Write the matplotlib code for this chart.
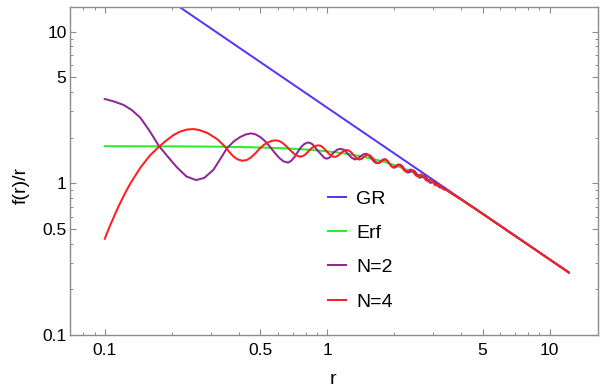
import matplotlib
matplotlib.use("Agg")
import matplotlib.pyplot as plt
from matplotlib.ticker import NullFormatter

plt.rcParams["font.family"] = ["Liberation Sans", "DejaVu Sans"]

# values (log-log), as (r, f(r)/r)
gr_pts = [(0.1, 31.55), (1.0, 3.155), (12.2, 0.2586)]

erf_pts = [(0.1, 1.758), (0.2, 1.754), (0.3, 1.747), (0.4, 1.737), (0.5, 1.724),
           (0.6, 1.709), (0.7, 1.692), (0.8, 1.672), (0.9, 1.650), (1.0, 1.626),
           (1.1, 1.600), (1.2, 1.573), (1.4, 1.514), (1.6, 1.452), (1.8, 1.387),
           (2.0, 1.321), (2.2, 1.255), (2.4, 1.191), (2.6, 1.128), (2.8, 1.069),
           (3.0, 1.0125), (3.2, 0.960), (3.4, 0.9105), (3.6, 0.865), (4.0, 0.7835),
           (4.5, 0.6988), (5.0, 0.6297), (6.0, 0.525), (8.0, 0.3938), (12.2, 0.2582)]

n2_pts = [(0.100, 3.60), (0.1098, 3.47), (0.1215, 3.29), (0.1321, 3.05), (0.1445, 2.71),
          (0.159, 2.22), (0.175, 1.77), (0.192, 1.50), (0.2111, 1.275), (0.233, 1.11),
          (0.2573, 1.051), (0.28, 1.085), (0.3083, 1.23), (0.33, 1.44), (0.3541, 1.70),
          (0.38, 1.89), (0.4062, 2.02), (0.43, 2.10), (0.455, 2.135), (0.476, 2.105),
          (0.503, 2.01), (0.53, 1.875), (0.5565, 1.725), (0.583, 1.58), (0.61, 1.468),
          (0.637, 1.395), (0.668, 1.37), (0.69, 1.41), (0.715, 1.50), (0.7415, 1.63),
          (0.765, 1.74), (0.79, 1.82), (0.82, 1.86), (0.84, 1.845), (0.8625, 1.80),
          (0.905, 1.649), (0.9475, 1.53), (0.97, 1.475), (0.99, 1.456), (1.01, 1.462),
          (1.03, 1.49), (1.07, 1.60), (1.11, 1.668), (1.15, 1.69), (1.195, 1.66),
          (1.24, 1.565), (1.285, 1.48), (1.33, 1.437), (1.3725, 1.4527), (1.415, 1.510),
          (1.4575, 1.5557), (1.50, 1.567), (1.541, 1.5286), (1.5825, 1.457), (1.624, 1.3917),
          (1.665, 1.358), (1.705, 1.3663), (1.745, 1.405), (1.785, 1.4375), (1.825, 1.443),
          (1.865, 1.4104), (1.905, 1.352), (1.945, 1.2982), (1.985, 1.269), (2.024, 1.2730),
          (2.0625, 1.300), (2.101, 1.3234), (2.14, 1.325), (2.179, 1.2970), (2.2175, 1.249),
          (2.256, 1.2043), (2.295, 1.179), (2.334, 1.1799), (2.3725, 1.199), (2.411, 1.2163),
          (2.45, 1.216), (2.4875, 1.1918), (2.525, 1.152), (2.5625, 1.1133), (2.60, 1.091),
          (2.6375, 1.0911), (2.675, 1.106), (2.7125, 1.1186), (2.75, 1.117), (2.7875, 1.0958),
          (2.825, 1.062), (2.8625, 1.0292), (2.90, 1.010), (2.9375, 1.0085), (2.975, 1.020),
          (3.0125, 1.0268), (3.05, 1.024), (3.0875, 1.0066), (3.125, 0.980), (3.1625, 0.957),
          (3.20, 0.942), (3.2375, 0.9381), (3.275, 0.941), (3.35, 0.932), (3.5, 0.888),
          (3.6, 0.865), (4.0, 0.7835), (4.5, 0.6988), (5.0, 0.6297), (6.0, 0.525),
          (8.0, 0.3938), (12.2, 0.2582)]

n4_pts = [(0.100, 0.431), (0.106, 0.533), (0.1155, 0.708), (0.124, 0.873), (0.131, 1.01),
          (0.145, 1.277), (0.160, 1.532), (0.175, 1.74), (0.187, 1.89), (0.2035, 2.08),
          (0.219, 2.20), (0.235, 2.265), (0.25, 2.28), (0.265, 2.25), (0.289, 2.15),
          (0.32, 1.96), (0.335, 1.84), (0.349, 1.73), (0.363, 1.61), (0.378, 1.51),
          (0.395, 1.44), (0.415, 1.41), (0.435, 1.425), (0.454, 1.48), (0.476, 1.58),
          (0.4985, 1.70), (0.52, 1.797), (0.5428, 1.864), (0.565, 1.907), (0.587, 1.92),
          (0.608, 1.905), (0.629, 1.85), (0.65, 1.775), (0.671, 1.697), (0.692, 1.62),
          (0.713, 1.559), (0.734, 1.52), (0.755, 1.50), (0.775, 1.51), (0.795, 1.544),
          (0.815, 1.60), (0.835, 1.664), (0.855, 1.715), (0.875, 1.749), (0.895, 1.772),
          (0.915, 1.78), (0.935, 1.768), (0.955, 1.730), (0.975, 1.68), (0.995, 1.627),
          (1.015, 1.575), (1.035, 1.536), (1.055, 1.505), (1.075, 1.494), (1.095, 1.50),
          (1.115, 1.519), (1.135, 1.55), (1.155, 1.585), (1.175, 1.62), (1.195, 1.641),
          (1.215, 1.654), (1.235, 1.657), (1.2735, 1.617), (1.312, 1.540), (1.351, 1.4696),
          (1.39, 1.435), (1.4275, 1.4476), (1.465, 1.494), (1.5025, 1.5330), (1.54, 1.542),
          (1.575, 1.5095), (1.61, 1.449), (1.6475, 1.3910), (1.685, 1.361), (1.721, 1.3679),
          (1.757, 1.401), (1.7935, 1.4287), (1.83, 1.433), (1.865, 1.4045), (1.90, 1.354),
          (1.935, 1.3060), (1.97, 1.280), (2.005, 1.2836), (2.04, 1.308), (2.075, 1.3284),
          (2.11, 1.330), (2.145, 1.3048), (2.18, 1.262), (2.215, 1.2209), (2.25, 1.198),
          (2.285, 1.1989), (2.32, 1.216), (2.355, 1.2315), (2.39, 1.231), (2.4235, 1.2092),
          (2.457, 1.173), (2.491, 1.1374), (2.525, 1.117), (2.5575, 1.1171), (2.59, 1.131),
          (2.625, 1.1433), (2.66, 1.142), (2.695, 1.1221), (2.73, 1.090), (2.7625, 1.0596),
          (2.795, 1.042), (2.8275, 1.0410), (2.86, 1.052), (2.895, 1.0612), (2.93, 1.059),
          (2.965, 1.0411), (3.0, 1.0125), (3.0325, 0.9864), (3.065, 0.971), (3.0975, 0.9696),
          (3.13, 0.978), (3.165, 0.9826), (3.20, 0.979), (3.235, 0.9645), (3.27, 0.9425),
          (3.3025, 0.9244), (3.335, 0.9126), (3.3675, 0.9086), (3.40, 0.9105), (3.47, 0.9017),
          (3.54, 0.8785), (3.6, 0.865), (4.0, 0.7835), (4.5, 0.6988), (5.0, 0.6297),
          (6.0, 0.525), (8.0, 0.3938), (12.2, 0.2582)]

labels = ["GR", "Erf", "N=2", "N=4"]
colors = ["#5b34ff", "#28f028", "#8f2795", "#ff1e1e"]

tick_vals = [0.1, 0.5, 1, 5, 10]
tick_text = ["0.1", "0.5", "1", "5", "10"]
x_minor = [0.07, 0.08, 0.09, 0.2, 0.3, 0.4, 0.6, 0.7, 0.8, 0.9, 2, 3, 4, 6, 7, 8, 9]
y_minor = [0.2, 0.3, 0.4, 0.6, 0.7, 0.8, 0.9, 2, 3, 4, 6, 7, 8, 9]

fig = plt.figure(figsize=(6.0, 3.89), dpi=100)
ax = fig.add_axes([70 / 600, 54 / 389, 528 / 600, 328 / 389])

for pts, lab, col in zip([gr_pts, erf_pts, n2_pts, n4_pts], labels, colors):
    rr, vv = zip(*pts)
    ax.plot(rr, vv, color=col, lw=1.45, label=lab)

ax.set_xscale("log")
ax.set_yscale("log")
ax.set_xlim(0.0698, 16.5)
ax.set_ylim(0.1, 14.55)

ax.set_xticks(tick_vals)
ax.set_xticklabels(tick_text)
ax.set_xticks(x_minor, minor=True)
ax.set_yticks(tick_vals)
ax.set_yticklabels(tick_text)
ax.set_yticks(y_minor, minor=True)
ax.xaxis.set_minor_formatter(NullFormatter())
ax.yaxis.set_minor_formatter(NullFormatter())

frame = "#8c8c8c"
for sp in ax.spines.values():
    sp.set_color(frame)
    sp.set_linewidth(1.0)
ax.tick_params(which="both", direction="in", top=True, right=True, color=frame,
               labelsize=12.5, labelcolor="black")
ax.tick_params(which="major", length=4.5, width=0.8)
ax.tick_params(which="minor", length=2.3, width=0.7)
ax.tick_params(axis="x", pad=6)
ax.tick_params(axis="y", pad=2.5)

fig.text(333 / 600, 1 - 379 / 389, "r", ha="center", va="center", fontsize=14)
fig.text(21 / 600, 1 - 185 / 389, "f(r)/r", ha="center", va="center",
         rotation=90, fontsize=14)

ax.legend(loc="upper left", bbox_to_anchor=(328 / 600, 1 - 190 / 389),
          bbox_transform=fig.transFigure, frameon=False, fontsize=14,
          handlelength=0.9, handletextpad=0.55, labelspacing=0.86,
          borderpad=0, borderaxespad=0)

fig.savefig("out.png", dpi=100)
